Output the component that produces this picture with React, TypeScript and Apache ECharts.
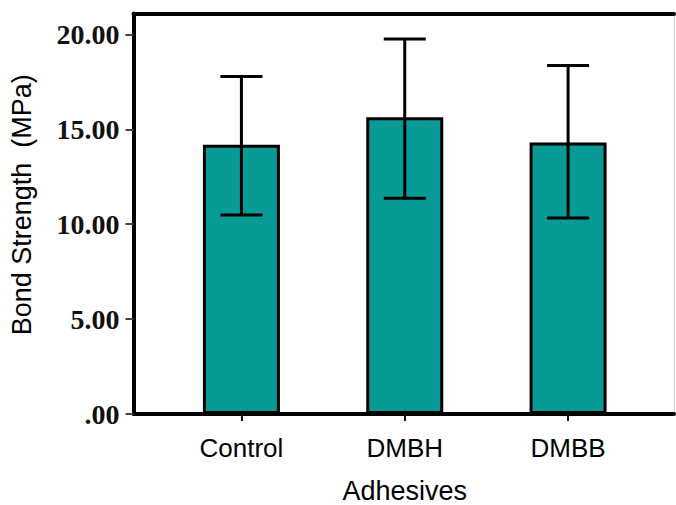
import React, { useEffect, useRef } from "react";
import * as echarts from "echarts";

// Bond strength by adhesive: mean with error bar limits (MPa)
const categories = ["Control", "DMBH", "DMBB"];
const means = [14.18, 15.64, 14.3];
const upper = [17.78, 19.75, 18.36];
const lower = [10.49, 11.37, 10.32];
const yTicks = [0, 5, 10, 15, 20];
const yMax = 21.1;

const sans = "'Liberation Sans', Arial, sans-serif";
const serif = "'Liberation Serif', 'Times New Roman', serif";

export default function App() {
  const ref = useRef<HTMLDivElement>(null);

  useEffect(() => {
    if (!ref.current) return;
    const chart = echarts.init(ref.current, undefined, { renderer: "svg" });

    const hiddenValueAxis = {
      type: "value" as const,
      min: 0,
      max: 1,
      axisLabel: { show: false },
      axisTick: { show: false },
      splitLine: { show: false },
    };

    chart.setOption({
      animation: false,
      backgroundColor: "#ffffff",
      grid: [
        // frame grid
        { left: 133.5, right: 2, top: 13.5, bottom: 91, outerBoundsMode: "none" },
        // bar grid
        { left: 159.75, right: 26.25, top: 13.5, bottom: 91, outerBoundsMode: "none" },
      ],
      xAxis: [
        {
          ...hiddenValueAxis,
          gridIndex: 0,
          position: "bottom",
          axisLine: { show: true, onZero: false, lineStyle: { color: "#000", width: 4 } },
        },
        {
          ...hiddenValueAxis,
          gridIndex: 0,
          position: "top",
          axisLine: { show: true, onZero: false, lineStyle: { color: "#000", width: 4 } },
        },
        {
          type: "category",
          gridIndex: 1,
          data: categories,
          axisLine: { show: false },
          axisTick: {
            show: true,
            alignWithLabel: true,
            length: 7,
            lineStyle: { color: "#111", width: 2 },
          },
          axisLabel: {
            color: "#000",
            fontFamily: sans,
            fontSize: 26,
            margin: 21,
          },
          name: "Adhesives",
          nameLocation: "middle",
          nameGap: 63,
          nameTextStyle: { color: "#000", fontFamily: sans, fontSize: 27 },
        },
      ],
      yAxis: [
        {
          type: "value",
          gridIndex: 0,
          min: 0,
          max: yMax,
          axisLine: { show: true, onZero: false, lineStyle: { color: "#000", width: 4 } },
          axisTick: {
            show: true,
            length: 8,
            customValues: yTicks,
            lineStyle: { color: "#444", width: 2 },
          },
          axisLabel: {
            customValues: yTicks,
            formatter: (v: number) => (v === 0 ? ".00" : v.toFixed(2)),
            color: "#111",
            fontFamily: serif,
            fontWeight: "bold",
            fontSize: 28,
            margin: 14,
          },
          splitLine: { show: false },
          name: "Bond Strength  (MPa)",
          nameLocation: "middle",
          nameGap: 98,
          nameTextStyle: {
            color: "#000",
            fontFamily: sans,
            fontSize: 27,
            padding: [0, 0, 0, 18],
          },
        },
        {
          type: "value",
          gridIndex: 0,
          position: "right",
          min: 0,
          max: yMax,
          axisLine: { show: true, onZero: false, lineStyle: { color: "#c8c8c8", width: 1 } },
          axisTick: { show: false },
          axisLabel: { show: false },
          splitLine: { show: false },
        },
        {
          type: "value",
          gridIndex: 1,
          min: 0,
          max: yMax,
          axisLine: { show: false },
          axisTick: { show: false },
          axisLabel: { show: false },
          splitLine: { show: false },
        },
      ],
      series: [
        {
          type: "bar",
          xAxisIndex: 2,
          yAxisIndex: 2,
          data: means,
          barWidth: 77,
          itemStyle: { color: "#089b96", borderColor: "#000", borderWidth: 3 },
          z: 2,
        },
        {
          type: "custom",
          xAxisIndex: 2,
          yAxisIndex: 2,
          data: categories.map((_, i) => [i, lower[i], upper[i]]),
          z: 3,
          renderItem: (params: any, api: any) => {
            const i = api.value(0);
            const lo = api.coord([i, api.value(1)]);
            const hi = api.coord([i, api.value(2)]);
            const half = 21;
            const style = { stroke: "#000", lineWidth: 3 };
            return {
              type: "group",
              children: [
                { type: "line", shape: { x1: lo[0], y1: lo[1], x2: hi[0], y2: hi[1] }, style },
                { type: "line", shape: { x1: hi[0] - half, y1: hi[1], x2: hi[0] + half, y2: hi[1] }, style },
                { type: "line", shape: { x1: lo[0] - half, y1: lo[1], x2: lo[0] + half, y2: lo[1] }, style },
              ],
            };
          },
        },
      ],
    });

    return () => chart.dispose();
  }, []);

  return (
    <div
      ref={ref}
      style={{ position: "fixed", left: 0, top: 0, width: 676, height: 505, background: "#fff" }}
    />
  );
}
